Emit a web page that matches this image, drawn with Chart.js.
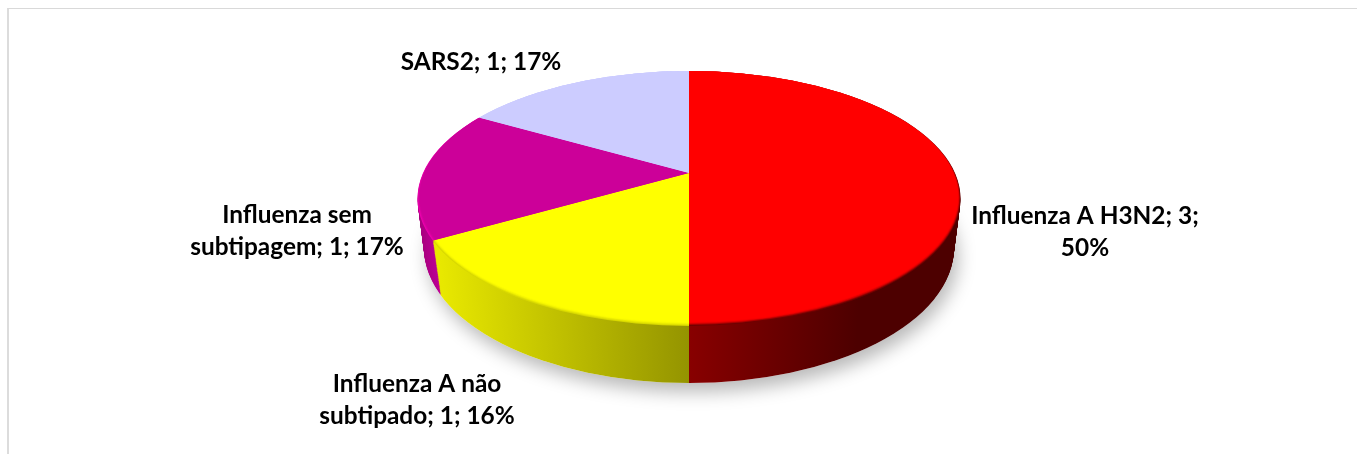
<!DOCTYPE html>
<html>
<head>
<meta charset="utf-8">
<script src="https://cdn.jsdelivr.net/npm/chart.js@4"></script>
<style>
html, body { margin: 0; padding: 0; background: #fff; overflow: hidden; }
#wrap { position: absolute; left: 0; top: 0; width: 1357px; height: 454px; }
#frame { position: absolute; left: 7px; top: 8px; right: 0; bottom: 0; border-top: 1px solid #d9d9d9; border-left: 2px solid #dcdcdc; }
canvas { position: absolute; left: 0; top: 0; }
</style>
</head>
<body>
<div id="wrap">
  <div id="frame"></div>
  <canvas id="pieChart" width="1357" height="454"></canvas>
</div>
<script>
const categories = ['Influenza A H3N2', 'Influenza A não subtipado', 'Influenza sem subtipagem', 'SARS2'];
const values = [3, 1, 1, 1];
const percents = [50, 16, 17, 17];
const topColors = ['#ff0000', '#ffff00', '#cc0099', '#ccccff'];
const rimColors = ['#700000', '#d8d800', '#f000b0', '#ccccff'];
// wall gradients: x offsets from the pie centre and colours at them
const wallColors = [
    { from: 0, to: 170, colors: ['#880000', '#4d0000'] },
    { from: -250, to: 0, colors: ['#e8e800', '#949400'] },
    { from: -270, to: -250, colors: ['#a8007e', '#c0009a'] },
    { from: -270, to: 0, colors: ['#8888aa', '#8888aa'] },
];
// where each label's rows go, row break after this many words
const labelBreaks = [4, 3, 2, 9];
const labelCenters = [[1085, 216], [417, 384], [297, 215], [481, 62]];

// the pie is seen in perspective: slices fan out from the apex, the outline is a wider ellipse
const apex = { x: 689, y: 173, squash: 0.457 };
const topFace = { cy: 198.5, rx: 271.5, ry: 127.5 };
const bottomFace = { cy: 248, rx: 265, ry: 135 };
const depth = 55;
const rimLayers = [0.4, 0.6, 0.8, 1];

function outline(ctx, cy, rx, ry) {
    ctx.beginPath();
    ctx.ellipse(apex.x, cy, rx, ry, 0, 0, Math.PI * 2);
}

function drawArcs(chart, dy, sx, fills) {
    const ctx = chart.ctx;
    chart.getDatasetMeta(0).data.forEach((arc, i) => {
        const saved = arc.options;
        ctx.save();
        ctx.translate(apex.x, apex.y + dy);
        ctx.scale(sx, apex.squash);
        ctx.translate(-arc.x, -arc.y);
        arc.options = Object.assign({}, saved, { backgroundColor: fills[i] });
        arc.draw(ctx);
        arc.options = saved;
        ctx.restore();
    });
}

const pie3d = {
    id: 'pie3d',
    // draws the slices itself, so the plain flat draw is cancelled
    beforeDatasetDraw(chart) {
        const ctx = chart.ctx;
        const centerX = chart.getDatasetMeta(0).data[0].x;

        // soft shadow under the disc
        ctx.save();
        ctx.shadowColor = 'rgba(0,0,0,0.28)';
        ctx.shadowBlur = 18;
        ctx.shadowOffsetX = 4;
        ctx.shadowOffsetY = 9;
        ctx.fillStyle = '#fff';
        outline(ctx, bottomFace.cy, bottomFace.rx, bottomFace.ry);
        ctx.fill();
        ctx.restore();

        // wall: stack of the same slices, from the bottom up
        const walls = wallColors.map(c => {
            const g = ctx.createLinearGradient(centerX + c.from, 0, centerX + c.to, 0);
            g.addColorStop(0, c.colors[0]);
            g.addColorStop(1, c.colors[1]);
            return g;
        });
        const steps = 60;
        for (let s = steps; s >= 1; s--) {
            const t = s / steps;
            ctx.save();
            outline(ctx,
                topFace.cy + (bottomFace.cy - topFace.cy) * t,
                topFace.rx + (bottomFace.rx - topFace.rx) * t,
                topFace.ry + (bottomFace.ry - topFace.ry) * t);
            ctx.clip();
            drawArcs(chart, depth * t, 1 - 0.016 * t, walls);
            ctx.restore();
        }

        // rim of the top face
        ctx.save();
        outline(ctx, topFace.cy, topFace.rx, topFace.ry);
        ctx.clip();
        drawArcs(chart, 0, 1, rimColors);
        ctx.restore();

        // top face in layers, each a little smaller, so the rim fades along the front
        rimLayers.forEach((alpha, k) => {
            const inset = (k + 1) / rimLayers.length;
            ctx.save();
            ctx.globalAlpha = alpha;
            outline(ctx, topFace.cy - 2 * inset, topFace.rx - 2.5 * inset, topFace.ry - 2 * inset);
            ctx.clip();
            drawArcs(chart, 0, 1, topColors);
            ctx.restore();
        });

        return false;
    },
    afterDatasetsDraw(chart) {
        const ctx = chart.ctx;
        ctx.save();
        ctx.fillStyle = '#000';
        ctx.font = 'bold 24.4px Lato';
        ctx.textAlign = 'center';
        ctx.textBaseline = 'middle';
        categories.forEach((name, i) => {
            const words = `${name}; ${values[i]}; ${percents[i]}%`.split(' ');
            const rows = [words.slice(0, labelBreaks[i]).join(' '), words.slice(labelBreaks[i]).join(' ')].filter(Boolean);
            rows.forEach((row, r) => {
                ctx.fillText(row, labelCenters[i][0], labelCenters[i][1] + r * 32);
            });
        });
        ctx.restore();
    },
};

new Chart(document.getElementById('pieChart').getContext('2d'), {
    type: 'pie',
    data: {
        labels: categories,
        datasets: [{
            data: values,
            backgroundColor: topColors,
            borderWidth: 0,
            radius: 345,
            clip: false,
        }],
    },
    options: {
        responsive: false,
        animation: false,
        events: [],
        plugins: {
            legend: { display: false },
            tooltip: { enabled: false },
        },
    },
    plugins: [pie3d],
});
</script>
</body>
</html>
